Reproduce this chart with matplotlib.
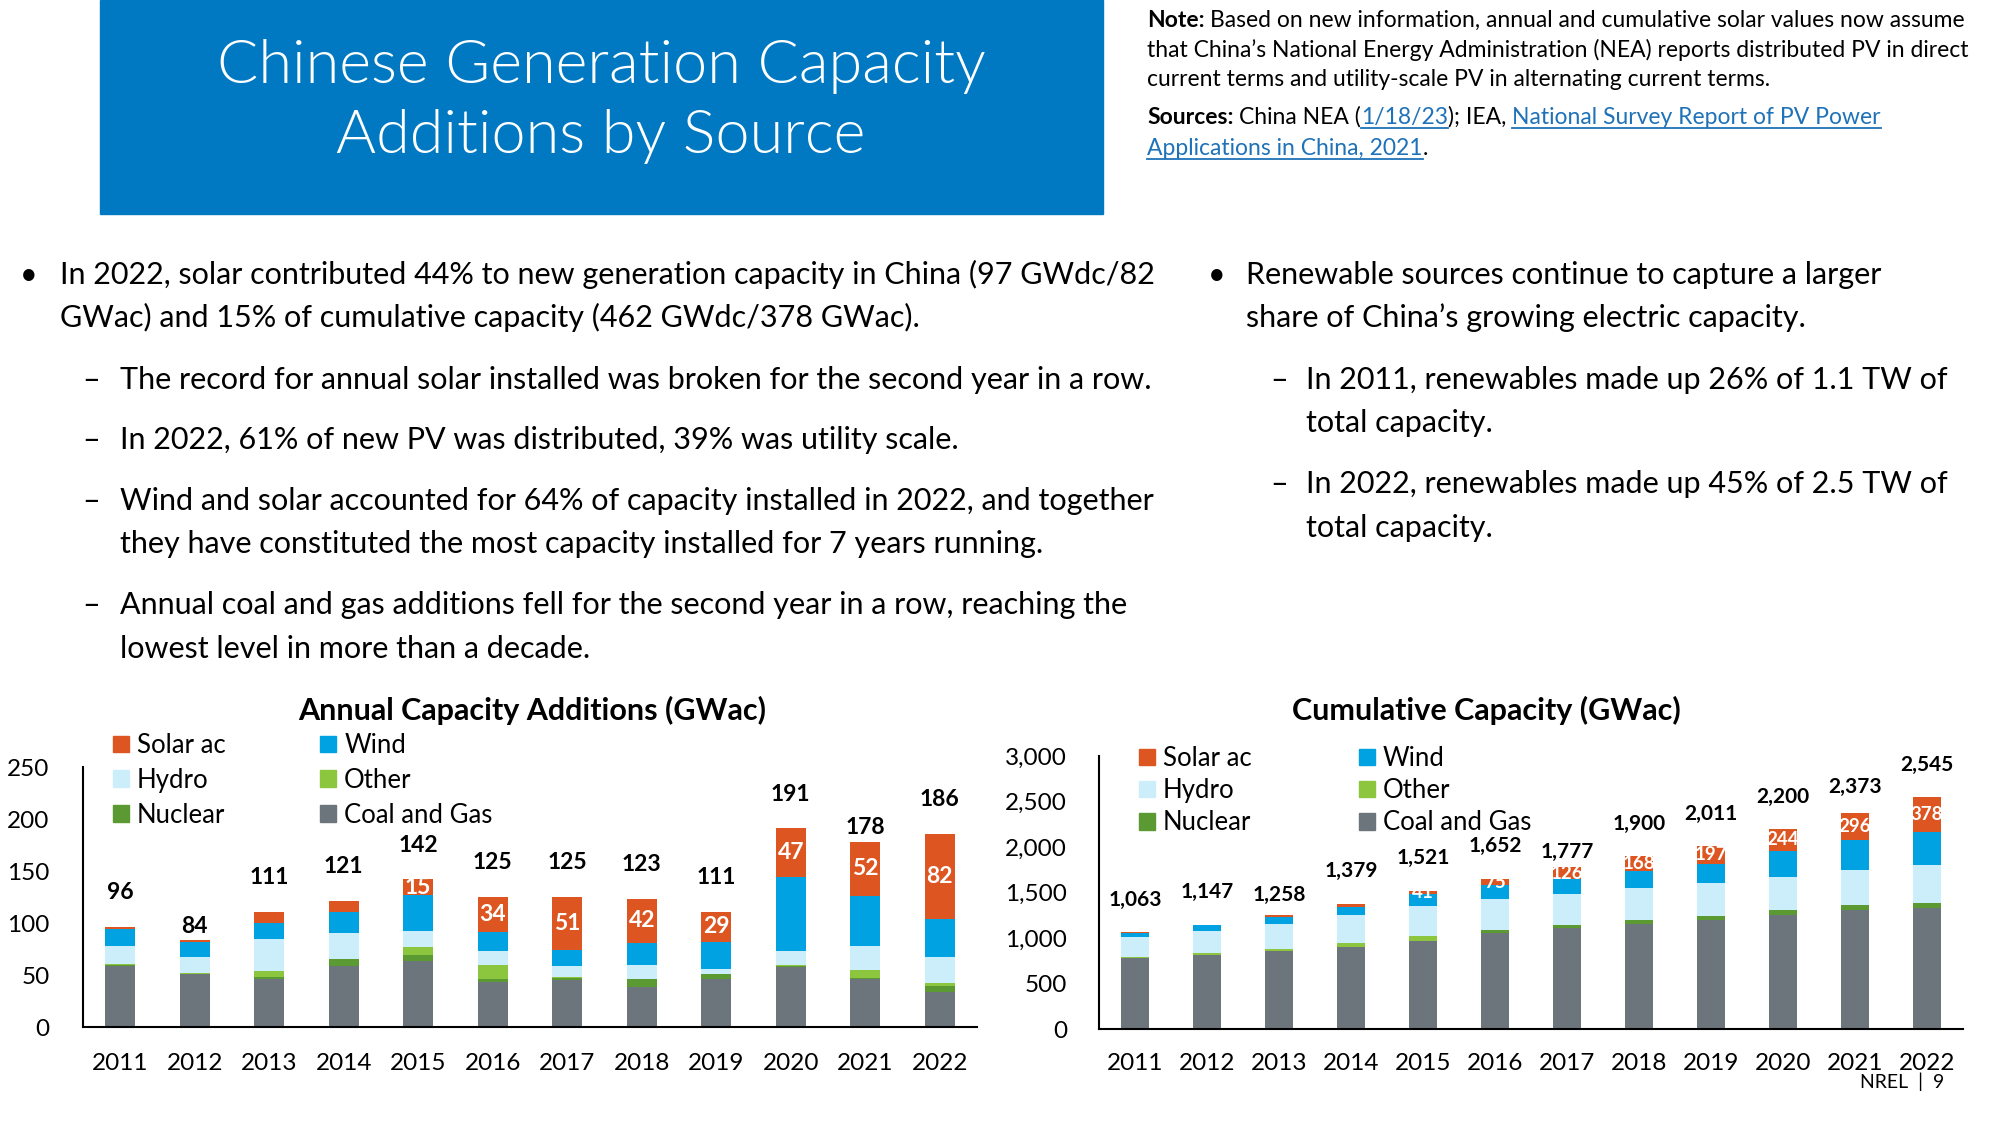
import matplotlib
matplotlib.use('Agg')
import matplotlib.pyplot as plt
from matplotlib.lines import Line2D
from matplotlib.patches import Rectangle, Patch
import numpy as np

plt.rcParams['font.family'] = ['Lato', 'DejaVu Sans']

# ---- data ----
years = [2011, 2012, 2013, 2014, 2015, 2016, 2017, 2018, 2019, 2020, 2021, 2022]
sources = ['Coal and Gas', 'Nuclear', 'Other', 'Hydro', 'Wind', 'Solar ac']

ann_coal = [59, 51, 46, 59, 63, 43, 45, 38, 46, 58, 46.5, 34]
ann_nuclear = [1, 0, 2, 6, 6.5, 3.5, 2.5, 8.5, 4.5, 1, 0.5, 5.5]
ann_other = [0.5, 0.5, 5.5, 0.5, 7.5, 13.5, 0.5, 0, 0.5, 0.5, 7.5, 3]
ann_hydro = [17, 16, 31.5, 25, 15.5, 13, 11, 13, 5, 13.5, 23.5, 24.5]
ann_wind = [16.5, 14.5, 15, 20.5, 34.5, 18, 15, 21.5, 26, 71, 48, 37]
ann_solar = [2, 2, 11, 10, 15, 34, 51, 42, 29, 47, 52, 82]

cum_coal = [775, 810, 852, 900, 970, 1058, 1107, 1150, 1197, 1254, 1305, 1333]
cum_nuclear = [0, 0, 0, 0, 0, 34, 36, 45, 49, 50, 53, 56]
cum_other = [12, 21, 25, 44, 57, 0, 0, 0, 0, 0, 0, 0]
cum_hydro = [228, 249, 280, 305, 322, 332, 344, 352, 358, 370, 391, 413]
cum_wind = [45, 61, 77, 96, 131, 153, 164, 185, 210, 282, 328, 365]
cum_solar = [3, 6, 24, 34, 41, 75, 126, 168, 197, 244, 296, 378]

colors = {'Coal and Gas': '#6D757C', 'Nuclear': '#5B9A33', 'Other': '#8CC63F',
          'Hydro': '#CCEEFB', 'Wind': '#00A2E2', 'Solar ac': '#DD5520'}

W, H = 2000, 1125
fig = plt.figure(figsize=(20, 11.25), dpi=100)
renderer = fig.canvas.get_renderer()


def fx(x):
    return x / W


def fy(y):
    return 1 - y / H


def text_width(s, size, weight='normal'):
    t = fig.text(0, 0, s, fontsize=size, fontweight=weight)
    w = t.get_window_extent(renderer).width
    t.remove()
    return w


def runs_line(x, y, runs, size):
    # runs: (text, weight, color, underline); y is baseline in px from top
    sp = text_width('n n', size) - text_width('nn', size)
    for s, weight, color, link in runs:
        if s.startswith(' '):
            x += sp
        t = fig.text(fx(x), fy(y), s.strip(), fontsize=size, fontweight=weight,
                     color=color, va='baseline', ha='left')
        bb = t.get_window_extent(renderer)
        if link:
            fig.add_artist(Line2D([bb.x0 / W, bb.x1 / W], [fy(y + 4)] * 2,
                                  transform=fig.transFigure, color=color, lw=1.3))
        x += bb.width
        if s.endswith(' '):
            x += sp


# ---- title box ----
fig.add_artist(Rectangle((fx(100), fy(214)), 1003 / W, 214 / H, transform=fig.transFigure,
                         color='#0079C2', zorder=0))
fig.text(fx(601), fy(66), 'Chinese Generation Capacity', ha='center', va='center',
         color='white', fontsize=44, fontweight=300)
fig.text(fx(601), fy(137), 'Additions by Source', ha='center', va='center',
         color='white', fontsize=44, fontweight=300)

# ---- note ----
link_c = '#1F72B8'
ns = 16.5
runs_line(1147, 27, [('Note: ', 'bold', 'black', False),
                     ('Based on new information, annual and cumulative solar values now assume', 'normal', 'black', False)], ns)
runs_line(1147, 57, [('that China\u2019s National Energy Administration (NEA) reports distributed PV in direct', 'normal', 'black', False)], ns)
runs_line(1147, 86, [('current terms and utility-scale PV in alternating current terms.', 'normal', 'black', False)], ns)
runs_line(1147, 124, [('Sources: ', 'bold', 'black', False), ('China NEA (', 'normal', 'black', False),
                      ('1/18/23', 'normal', link_c, True), ('); IEA, ', 'normal', 'black', False),
                      ('National Survey Report of PV Power', 'normal', link_c, True)], ns)
runs_line(1147, 155, [('Applications in China, 2021', 'normal', link_c, True), ('.', 'normal', 'black', False)], ns)

# ---- bullets ----
bs = 22
left_lines = [
    (20, 60, 284, '\u2022', 'In 2022, solar contributed 44% to new generation capacity in China (97 GWdc/82'),
    (None, 60, 327, '', 'GWac) and 15% of cumulative capacity (462 GWdc/378 GWac).'),
    (82, 120, 389, '\u2013', 'The record for annual solar installed was broken for the second year in a row.'),
    (82, 120, 449, '\u2013', 'In 2022, 61% of new PV was distributed, 39% was utility scale.'),
    (82, 120, 510, '\u2013', 'Wind and solar accounted for 64% of capacity installed in 2022, and together'),
    (None, 120, 553, '', 'they have constituted the most capacity installed for 7 years running.'),
    (82, 120, 614, '\u2013', 'Annual coal and gas additions fell for the second year in a row, reaching the'),
    (None, 120, 658, '', 'lowest level in more than a decade.'),
]
right_lines = [
    (1208, 1246, 284, '\u2022', 'Renewable sources continue to capture a larger'),
    (None, 1246, 327, '', 'share of China\u2019s growing electric capacity.'),
    (1270, 1306, 389, '\u2013', 'In 2011, renewables made up 26% of 1.1 TW of'),
    (None, 1306, 432, '', 'total capacity.'),
    (1270, 1306, 493, '\u2013', 'In 2022, renewables made up 45% of 2.5 TW of'),
    (None, 1306, 537, '', 'total capacity.'),
]
for bx, tx, by, mark, s in left_lines + right_lines:
    if bx is not None:
        fig.text(fx(bx), fy(by), mark, fontsize=bs, va='baseline', ha='left')
    fig.text(fx(tx), fy(by), s, fontsize=bs, va='baseline', ha='left')


# ---- charts ----
def stacked(ax, series, ymax, yticks, fmt, tot_off, tot_extra, tot_size, sol_size, pad_y, pad_x):
    x = np.arange(len(years))
    bottom = np.zeros(len(years))
    for name, vals in zip(sources, series):
        vals = np.array(vals, dtype=float)
        ax.bar(x, vals, 0.4, bottom=bottom, color=colors[name], label=name, zorder=2)
        if name == 'Solar ac':
            for i in range(len(years)):
                if years[i] >= 2015:
                    ax.text(x[i], bottom[i] + vals[i] / 2, f'{int(vals[i])}', ha='center', va='center',
                            color='white', fontsize=sol_size, fontweight='bold', zorder=3)
        bottom += vals
    for i, tot in enumerate(bottom):
        ax.text(x[i], tot + tot_off - tot_extra.get(years[i], 0), f'{int(round(tot)):,}',
                ha='center', va='center', fontsize=tot_size, fontweight='bold')
    ax.set_xlim(-0.5, len(years) - 0.5)
    ax.set_ylim(0, ymax)
    ax.set_yticks(yticks)
    ax.set_yticklabels([fmt(v) for v in yticks])
    ax.set_xticks(x)
    ax.set_xticklabels([str(y) for y in years])
    ax.tick_params(axis='both', length=0, labelsize=17.5)
    ax.tick_params(axis='y', pad=pad_y)
    ax.tick_params(axis='x', pad=pad_x)
    for s in ['top', 'right']:
        ax.spines[s].set_visible(False)
    for s in ['left', 'bottom']:
        ax.spines[s].set_linewidth(1.5)
        ax.spines[s].set_color('black')


ax1 = fig.add_axes([fx(83), fy(1027), 894 / W, 260 / H])
stacked(ax1, [ann_coal, ann_nuclear, ann_other, ann_hydro, ann_wind, ann_solar],
        250, [0, 50, 100, 150, 200, 250], lambda v: f'{v}', 33, {2012: 20, 2021: 19},
        16.5, 16.5, 24, 19)
fig.text(fx(532), fy(710), 'Annual Capacity Additions (GWac)', ha='center', va='center',
         fontsize=22, fontweight='bold')

ax2 = fig.add_axes([fx(1099), fy(1029), 864 / W, 273 / H])
stacked(ax2, [cum_coal, cum_nuclear, cum_other, cum_hydro, cum_wind, cum_solar],
        3000, [0, 500, 1000, 1500, 2000, 2500, 3000], lambda v: f'{v:,}', 355,
        {2013: 138, 2017: 189, 2021: 72}, 15, 13.5, 23, 17)
fig.text(fx(1486), fy(710), 'Cumulative Capacity (GWac)', ha='center', va='center',
         fontsize=22, fontweight='bold')

# legends (row order: Solar/Wind, Hydro/Other, Nuclear/Coal)
order = ['Solar ac', 'Hydro', 'Nuclear', 'Wind', 'Other', 'Coal and Gas']
handles = [Patch(color=colors[n]) for n in order]
ax1.legend(handles, order, ncol=2, frameon=False, fontsize=18.5, loc='upper left',
           bbox_to_anchor=(fx(113), fy(733)), bbox_transform=fig.transFigure,
           handlelength=0.62, handleheight=0.62, handletextpad=0.3, labelspacing=0.38,
           columnspacing=3.7, borderpad=0, borderaxespad=0)
ax2.legend(handles, order, ncol=2, frameon=False, fontsize=18.5, loc='upper left',
           bbox_to_anchor=(fx(1139), fy(746)), bbox_transform=fig.transFigure,
           handlelength=0.62, handleheight=0.62, handletextpad=0.3, labelspacing=0.28,
           columnspacing=4.2, borderpad=0, borderaxespad=0)

fig.text(fx(1860), fy(1082), 'NREL  |  9', ha='left', va='center', fontsize=14)

fig.savefig('out.png', dpi=100)
